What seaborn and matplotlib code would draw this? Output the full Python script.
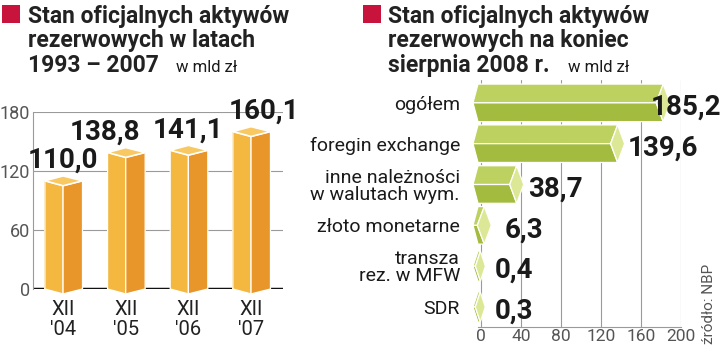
import matplotlib
matplotlib.use("Agg")
import matplotlib.pyplot as plt
import seaborn as sns
import pandas as pd
from matplotlib.patches import Polygon, Rectangle

# ---------------- data ----------------
left_cats = ["XII\n'04", "XII\n'05", "XII\n'06", "XII\n'07"]
left_vals = [110.0, 138.8, 141.1, 160.1]
left_labels = ["110,0", "138,8", "141,1", "160,1"]
left_ticks = [0, 60, 120, 180]

right_cats = ["ogółem", "foregin exchange", "inne należności\nw walutach wym.",
              "złoto monetarne", "transza\nrez. w MFW", "SDR"]
right_vals = [185.2, 139.6, 38.7, 6.3, 0.4, 0.3]
right_labels = ["185,2", "139,6", "38,7", "6,3", "0,4", "0,3"]
right_ticks = [0, 40, 80, 120, 160, 200]

title_left = ["Stan oficjalnych aktywów", "rezerwowych w latach", "1993 – 2007"]
title_right = ["Stan oficjalnych aktywów", "rezerwowych na koniec", "sierpnia 2008 r."]
unit = "w mld zł"
source = "źródło: NBP"

# ---------------- style ----------------
sns.set_style("white")
plt.rcParams["font.family"] = ["Roboto", "DejaVu Sans"]

OR_L, OR_R, OR_T = "#F4B840", "#E8952A", "#F8C862"
GR_T, GR_B, GR_C = "#BDD160", "#A3BC40", "#DDE897"
RED = "#C8143C"
GRID = "#9a9a9a"

fig = plt.figure(figsize=(7.2, 3.47), dpi=100)
W, H = 720, 347

def fx(px):
    return px / W

def fy(py):
    return 1 - py / H

# ---------------- titles ----------------
for x0, sq, lines, ux in [(28, 2, title_left, 176), (388, 363, title_right, 568)]:
    fig.patches.append(Rectangle((fx(sq), fy(23)), 18 / W, 18 / H, transform=fig.transFigure,
                                 color=RED, lw=0))
    for i, ln in enumerate(lines):
        fig.text(fx(x0), fy(23 + 24.5 * i), ln, fontsize=16.5, fontweight="bold",
                 color="#222222", va="baseline", ha="left")
    fig.text(fx(ux), fy(72), unit, fontsize=12, color="#1a1a1a", va="baseline", ha="left")

fig.text(fx(709), fy(344), source, rotation=90, fontsize=11, color="#555555",
         va="bottom", ha="center")

# ---------------- left chart ----------------
axL = fig.add_axes([fx(33), fy(289), (283 - 33) / W, (289 - 112) / H])
dfL = pd.DataFrame({"cat": left_cats, "val": left_vals})
sns.barplot(data=dfL, x="cat", y="val", ax=axL, color=OR_L, width=0.6,
            saturation=1, linewidth=0, zorder=3)
axL.set_xlim(-0.48, 3.51)
axL.set_ylim(0, 180)
axL.set_yticks(left_ticks)
axL.yaxis.grid(True, color=GRID, lw=0.8, zorder=0)
axL.set_axisbelow(True)
for s in ["top", "right", "bottom"]:
    axL.spines[s].set_visible(False)
axL.spines["left"].set_color(GRID)
axL.spines["left"].set_linewidth(0.8)
axL.axhline(0, color="#111111", lw=2.5, zorder=2)
axL.tick_params(axis="y", length=0, pad=2, labelsize=13, labelcolor="#555555")
axL.tick_params(axis="x", length=0, pad=8, labelsize=14.5, labelcolor="#222222")
for t in axL.get_xticklabels():
    t.set_linespacing(1.05)
axL.set_xlabel("")
axL.set_ylabel("")

dl, dr, dv = 0.29, 0.31, 5
lab_dx = [0, -0.33, 0, 0.2]
for i, v in enumerate(left_vals):
    c = i
    lf = Polygon([(c - dl, 0), (c - dl, v), (c, v - dv), (c, -dv)], closed=True,
                 fc=OR_L, ec="white", lw=0.9, zorder=4, clip_on=False)
    rf = Polygon([(c, -dv), (c, v - dv), (c + dr, v), (c + dr, 0)], closed=True,
                 fc=OR_R, ec="white", lw=0.9, zorder=4, clip_on=False)
    tp = Polygon([(c - dl, v), (c, v + dv), (c + dr, v), (c, v - dv)], closed=True,
                 fc=OR_T, ec="white", lw=1.2, zorder=5, clip_on=False)
    for p in (lf, rf, tp):
        axL.add_patch(p)
    axL.text(c + lab_dx[i], v + 13, left_labels[i], ha="center", va="baseline",
             fontsize=20, fontweight="bold", color="#1a1a1a", zorder=6, clip_on=False)

# ---------------- right chart ----------------
axR = fig.add_axes([fx(471), fy(327), (681 - 471) / W, (327 - 80) / H])
dfR = pd.DataFrame({"cat": right_cats, "val": right_vals})
sns.barplot(data=dfR, x="val", y="cat", orient="h", ax=axR, fill=False,
            linewidth=0, width=0.9)
axR.set_xlim(-10, 200)
axR.set_ylim(5.49, -0.56)
axR.set_xticks(right_ticks)
axR.xaxis.grid(True, color=GRID, lw=0.8, zorder=0)
axR.set_axisbelow(True)
for s in ["top", "right", "left"]:
    axR.spines[s].set_visible(False)
axR.spines["bottom"].set_color(GRID)
axR.spines["bottom"].set_linewidth(0.8)
axR.spines["bottom"].set_bounds(-3, 200)
axR.tick_params(axis="x", direction="in", length=6, color=GRID, width=0.8, pad=1.5,
                labelsize=12.5, labelcolor="#555555")
axR.tick_params(axis="y", length=0, pad=8, labelsize=14, labelcolor="#1a1a1a")
for t in axR.get_yticklabels():
    t.set_linespacing(0.95)
axR.set_xlabel("")
axR.set_ylabel("")

lab_off = [-16, 7.5, 8.5, 17.5, 13.5, 13.5]
L, XS = -8, -3
for i, v in enumerate(right_vals):
    yc = i
    big = v > 1
    h = 0.46 if big else 0.37
    w = 7 if big else 5
    R = v + 4
    if R - 2 * w > L:
        top = Polygon([(L, yc), (XS, yc - h), (R - w, yc - h), (R - 2 * w, yc)], closed=True,
                      fc=GR_T, ec="white", lw=0.9, zorder=4, clip_on=False)
        bot = Polygon([(L, yc), (R - 2 * w, yc), (R - w, yc + h), (XS, yc + h)], closed=True,
                      fc=GR_B, ec="white", lw=0.9, zorder=4, clip_on=False)
        axR.add_patch(top)
        axR.add_patch(bot)
    cap = Polygon([(R - w, yc - h), (R, yc), (R - w, yc + h), (R - 2 * w, yc)], closed=True,
                  fc=GR_C, ec="white", lw=0.9, zorder=5, clip_on=False)
    axR.add_patch(cap)
    axR.text(v + lab_off[i], yc + 0.29, right_labels[i], ha="left", va="baseline",
             fontsize=20, fontweight="bold", color="#1a1a1a", zorder=6, clip_on=False)

fig.savefig("out.png", dpi=100)
